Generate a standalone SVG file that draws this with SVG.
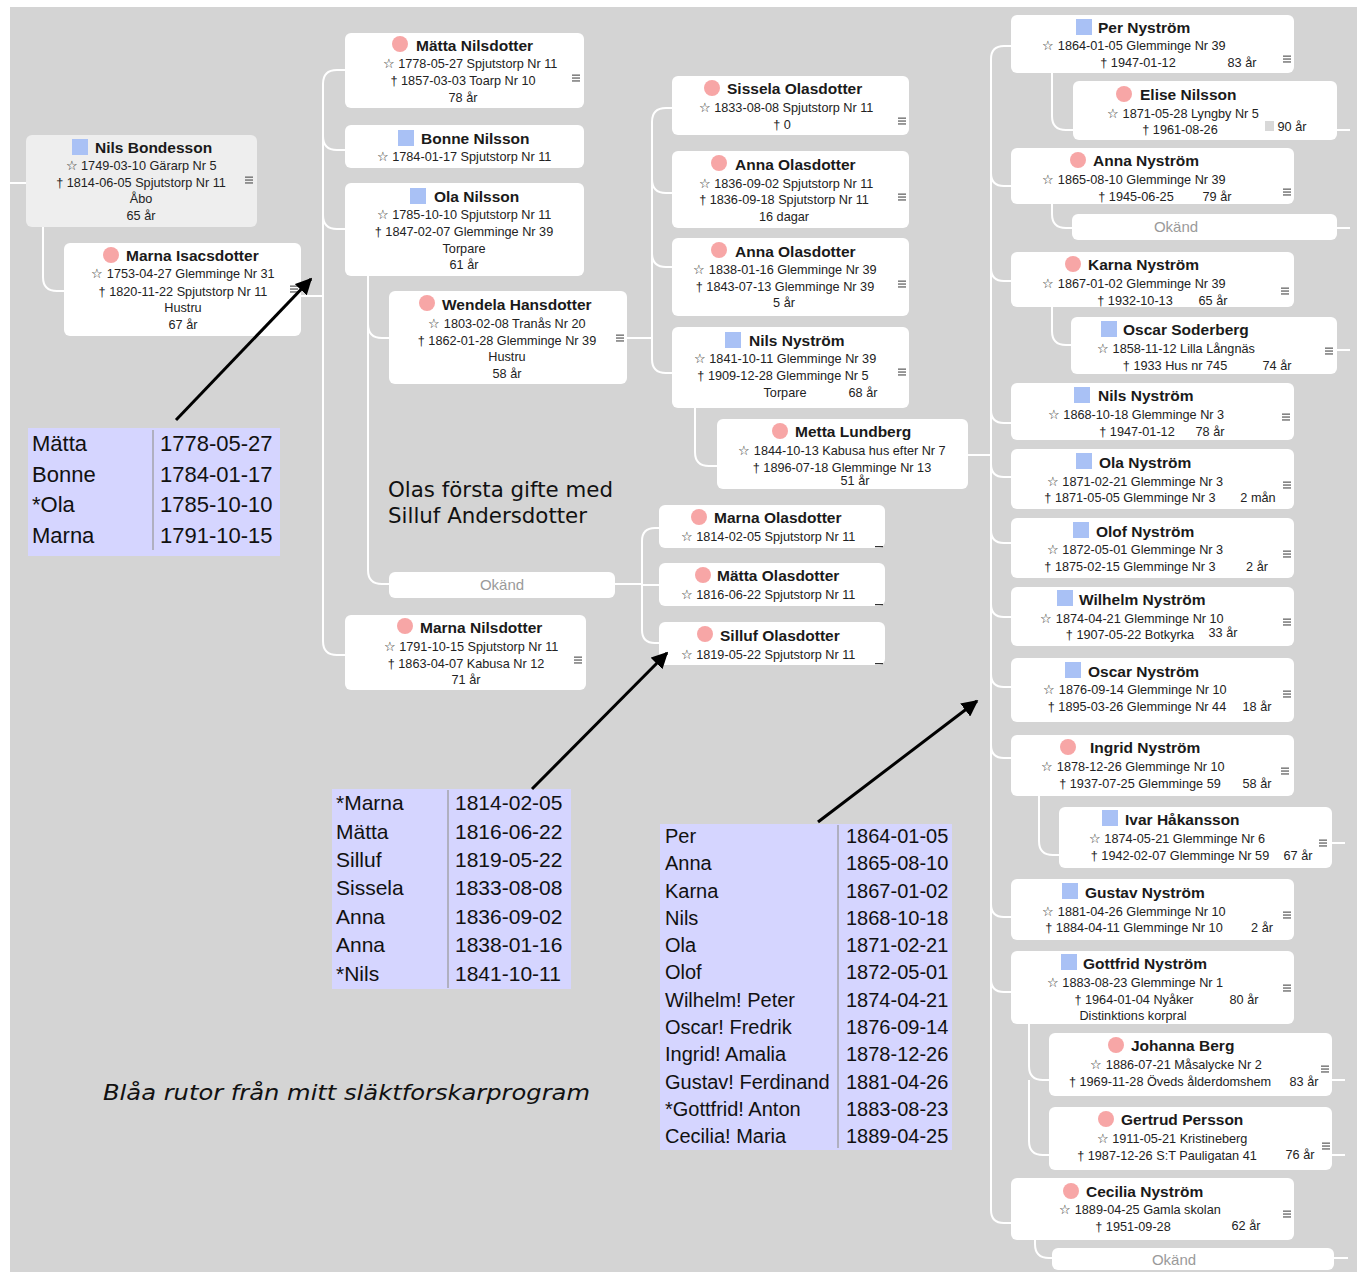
<svg xmlns="http://www.w3.org/2000/svg" xmlns:xlink="http://www.w3.org/1999/xlink" width="1357" height="1278" viewBox="0 0 1357 1278">
<style>
.bg{fill:#d4d4d4}
.box{fill:#ffffff}
.sel{fill:#eeeeee}
.nm{font-family:"Liberation Sans",Arial,sans-serif;font-weight:bold;font-size:15.5px;fill:#1a1a1a}
.dt{font-family:"Liberation Sans",Arial,sans-serif;font-size:12.7px;fill:#222;text-anchor:middle}
.ok{font-family:"Liberation Sans",Arial,sans-serif;font-size:15px;fill:#9a9a9a;text-anchor:middle}
.f{fill:#f7a6a6}
.m{fill:#a9c1f5}
.con path{fill:none;stroke:#ffffff;stroke-width:2}
.tb{fill:#d5d5ff}
.dv{stroke:#b0b0c0;stroke-width:2}
.tt{font-family:"Liberation Sans",Arial,sans-serif;fill:#111}
.an{font-family:"DejaVu Sans",Verdana,sans-serif;font-size:21.5px;fill:#111}
.ar{stroke:#000;stroke-width:3;fill:none}
.us{fill:#333}
</style>
<defs>
<g id="menu"><rect x="-4" y="-3.5" width="8" height="1.3" fill="#666"/><rect x="-4" y="-0.6" width="8" height="1.3" fill="#666"/><rect x="-4" y="2.3" width="8" height="1.3" fill="#666"/></g>
<marker id="ah" viewBox="0 0 10 10" refX="9" refY="5" markerWidth="5.5" markerHeight="5.5" orient="auto" markerUnits="strokeWidth"><path d="M0,0 L10,5 L0,10 z" fill="#000"/></marker>
</defs>
<rect class="bg" x="10" y="7" width="1347" height="1265"/>

<g id="connectors" class="con">
<path d="M10,183 H26"/>
<path d="M43,227 V277 Q43,291 57,291 H64"/>
<path d="M301,296 H323"/>
<path d="M345,70 H337 Q323,70 323,84 V641 Q323,655 337,655 H345"/>
<path d="M323,136 Q323,150 337,150 H345"/>
<path d="M323,215 Q323,229 337,229 H345"/>
<path d="M368,276 V570 Q368,584 382,584 H389"/>
<path d="M368,324 Q368,338 382,338 H389"/>
<path d="M627,338 H652"/>
<path d="M672,108 H666 Q652,108 652,122 V359 Q652,373 666,373 H672"/>
<path d="M652,179 Q652,193 666,193 H672"/>
<path d="M652,253 Q652,267 666,267 H672"/>
<path d="M695,408 V452 Q695,466 709,466 H717"/>
<path d="M615,584 H642"/>
<path d="M659,528 H655 Q642,528 642,541 V630 Q642,643 655,643 H659"/>
<path d="M642,585 H659"/>
<path d="M968,455 H991"/>
<path d="M1011,46 H1004 Q991,46 991,59 V1210 Q991,1223 1004,1223 H1011"/>
<path d="M991,173 Q991,186 1004,186 H1011"/>
<path d="M991,268 Q991,281 1004,281 H1011"/>
<path d="M991,410 Q991,423 1004,423 H1011"/>
<path d="M991,464 Q991,477 1004,477 H1011"/>
<path d="M991,530 Q991,543 1004,543 H1011"/>
<path d="M991,604 Q991,617 1004,617 H1011"/>
<path d="M991,674 Q991,687 1004,687 H1011"/>
<path d="M991,745 Q991,758 1004,758 H1011"/>
<path d="M991,904 Q991,917 1004,917 H1011"/>
<path d="M991,979 Q991,992 1004,992 H1011"/>
<path d="M1052,73 V116 Q1052,130 1066,130 H1073"/>
<path d="M1052,204 V214 Q1052,228 1066,228 H1072"/>
<path d="M1052,307 V331 Q1052,345 1066,345 H1071"/>
<path d="M1039,796 V841 Q1039,855 1053,855 H1059"/>
<path d="M1029,1024 V1066 Q1029,1080 1043,1080 H1049"/>
<path d="M1029,1080 V1141 Q1029,1155 1043,1155 H1049"/>
<path d="M1035,1240 V1244 Q1035,1258 1049,1258 H1052"/>
<path d="M1337,130 H1350"/>
<path d="M1337,228 H1350"/>
<path d="M1337,350 H1350"/>
<path d="M1332,843 H1345"/>
<path d="M1332,1080 H1345"/>
<path d="M1332,1155 H1345"/>
<path d="M1334,1258 H1348"/>
</g>

<g id="n-nils-bondesson">
<rect class="sel" x="26" y="135" width="231" height="92" rx="6"/>
<rect class="m" x="72" y="139" width="16" height="16"/>
<text class="nm" x="95" y="153">Nils Bondesson</text>
<text class="dt" x="141" y="170">☆ 1749-03-10 Gärarp Nr 5</text>
<text class="dt" x="141" y="187">† 1814-06-05 Spjutstorp Nr 11</text>
<text class="dt" x="141" y="203">Åbo</text>
<text class="dt" x="141" y="220">65 år</text>
<use xlink:href="#menu" x="249" y="180"/>
</g>

<g id="n-marna-isacsdotter">
<rect class="box" x="64" y="243" width="237" height="93" rx="6"/>
<circle class="f" cx="111" cy="255" r="8"/>
<text class="nm" x="126" y="261">Marna Isacsdotter</text>
<text class="dt" x="183" y="278">☆ 1753-04-27 Glemminge Nr 31</text>
<text class="dt" x="183" y="296">† 1820-11-22 Spjutstorp Nr 11</text>
<text class="dt" x="183" y="312">Hustru</text>
<text class="dt" x="183" y="329">67 år</text>
<use xlink:href="#menu" x="294" y="289"/>
</g>

<g id="n-matta-nilsdotter">
<rect class="box" x="345" y="33" width="239" height="75" rx="6"/>
<circle class="f" cx="400" cy="44" r="8"/>
<text class="nm" x="416" y="51">Mätta Nilsdotter</text>
<text class="dt" x="470" y="68">☆ 1778-05-27 Spjutstorp Nr 11</text>
<text class="dt" x="463" y="85">† 1857-03-03 Toarp Nr 10</text>
<text class="dt" x="463" y="102">78 år</text>
<use xlink:href="#menu" x="576" y="78"/>
</g>

<g id="n-bonne-nilsson">
<rect class="box" x="345" y="125" width="239" height="43" rx="6"/>
<rect class="m" x="398" y="130" width="16" height="16"/>
<text class="nm" x="421" y="144">Bonne Nilsson</text>
<text class="dt" x="464" y="161">☆ 1784-01-17 Spjutstorp Nr 11</text>
</g>

<g id="n-ola-nilsson">
<rect class="box" x="345" y="183" width="239" height="93" rx="6"/>
<rect class="m" x="410" y="188" width="16" height="16"/>
<text class="nm" x="434" y="202">Ola Nilsson</text>
<text class="dt" x="464" y="219">☆ 1785-10-10 Spjutstorp Nr 11</text>
<text class="dt" x="464" y="236">† 1847-02-07 Glemminge Nr 39</text>
<text class="dt" x="464" y="253">Torpare</text>
<text class="dt" x="464" y="269">61 år</text>
</g>

<g id="n-wendela-hansdotter">
<rect class="box" x="389" y="291" width="238" height="93" rx="6"/>
<circle class="f" cx="427" cy="303" r="8"/>
<text class="nm" x="442" y="310">Wendela Hansdotter</text>
<text class="dt" x="507" y="328">☆ 1803-02-08 Tranås Nr 20</text>
<text class="dt" x="507" y="345">† 1862-01-28 Glemminge Nr 39</text>
<text class="dt" x="507" y="361">Hustru</text>
<text class="dt" x="507" y="378">58 år</text>
<use xlink:href="#menu" x="620" y="338"/>
</g>

<g id="n-okand-1">
<rect class="box" x="389" y="572" width="226" height="26" rx="6"/>
<text class="ok" x="502" y="590">Okänd</text>
</g>

<g id="n-marna-nilsdotter">
<rect class="box" x="345" y="615" width="241" height="75" rx="6"/>
<circle class="f" cx="405" cy="626" r="8"/>
<text class="nm" x="420" y="633">Marna Nilsdotter</text>
<text class="dt" x="471" y="651">☆ 1791-10-15 Spjutstorp Nr 11</text>
<text class="dt" x="466" y="668">† 1863-04-07 Kabusa Nr 12</text>
<text class="dt" x="466" y="684">71 år</text>
<use xlink:href="#menu" x="578" y="660"/>
</g>

<g id="n-sissela-olasdotter">
<rect class="box" x="672" y="76" width="237" height="59" rx="6"/>
<circle class="f" cx="712" cy="88" r="8"/>
<text class="nm" x="727" y="94">Sissela Olasdotter</text>
<text class="dt" x="786" y="112">☆ 1833-08-08 Spjutstorp Nr 11</text>
<text class="dt" x="782" y="129">† 0</text>
<use xlink:href="#menu" x="902" y="121"/>
</g>

<g id="n-anna-olasdotter-1">
<rect class="box" x="672" y="151" width="237" height="77" rx="6"/>
<circle class="f" cx="719" cy="163" r="8"/>
<text class="nm" x="735" y="170">Anna Olasdotter</text>
<text class="dt" x="786" y="188">☆ 1836-09-02 Spjutstorp Nr 11</text>
<text class="dt" x="784" y="204">† 1836-09-18 Spjutstorp Nr 11</text>
<text class="dt" x="784" y="221">16 dagar</text>
<use xlink:href="#menu" x="902" y="197"/>
</g>

<g id="n-anna-olasdotter-2">
<rect class="box" x="672" y="238" width="237" height="78" rx="6"/>
<circle class="f" cx="719" cy="250" r="8"/>
<text class="nm" x="735" y="257">Anna Olasdotter</text>
<text class="dt" x="785" y="274">☆ 1838-01-16 Glemminge Nr 39</text>
<text class="dt" x="785" y="291">† 1843-07-13 Glemminge Nr 39</text>
<text class="dt" x="784" y="307">5 år</text>
<use xlink:href="#menu" x="902" y="284"/>
</g>

<g id="n-nils-nystrom-1">
<rect class="box" x="672" y="327" width="237" height="81" rx="6"/>
<rect class="m" x="725" y="332" width="16" height="16"/>
<text class="nm" x="749" y="346">Nils Nyström</text>
<text class="dt" x="785" y="363">☆ 1841-10-11 Glemminge Nr 39</text>
<text class="dt" x="783" y="380">† 1909-12-28 Glemminge Nr 5</text>
<text class="dt" x="785" y="397">Torpare</text>
<text class="dt" x="863" y="397">68 år</text>
<use xlink:href="#menu" x="902" y="372"/>
</g>

<g id="n-metta-lundberg">
<rect class="box" x="717" y="419" width="251" height="70" rx="6"/>
<circle class="f" cx="780" cy="431" r="8"/>
<text class="nm" x="795" y="437">Metta Lundberg</text>
<text class="dt" x="842" y="455">☆ 1844-10-13 Kabusa hus efter Nr 7</text>
<text class="dt" x="842" y="472">† 1896-07-18 Glemminge Nr 13</text>
<text class="dt" x="855" y="485">51 år</text>
</g>

<g id="n-marna-olasdotter">
<rect class="box" x="659" y="505" width="226" height="43" rx="6"/>
<circle class="f" cx="699" cy="517" r="8"/>
<text class="nm" x="714" y="523">Marna Olasdotter</text>
<text class="dt" x="768" y="541">☆ 1814-02-05 Spjutstorp Nr 11</text>
<rect class="us" x="875" y="546" width="8" height="1.2"/>
</g>

<g id="n-matta-olasdotter">
<rect class="box" x="659" y="563" width="226" height="43" rx="6"/>
<circle class="f" cx="703" cy="575" r="8"/>
<text class="nm" x="717" y="581">Mätta Olasdotter</text>
<text class="dt" x="768" y="599">☆ 1816-06-22 Spjutstorp Nr 11</text>
<rect class="us" x="875" y="604" width="8" height="1.2"/>
</g>

<g id="n-silluf-olasdotter">
<rect class="box" x="659" y="622" width="226" height="43" rx="6"/>
<circle class="f" cx="705" cy="634" r="8"/>
<text class="nm" x="720" y="641">Silluf Olasdotter</text>
<text class="dt" x="768" y="659">☆ 1819-05-22 Spjutstorp Nr 11</text>
<rect class="us" x="875" y="663" width="8" height="1.2"/>
</g>

<g id="n-per-nystrom">
<rect class="box" x="1011" y="15" width="283" height="58" rx="6"/>
<rect class="m" x="1076" y="19" width="16" height="16"/>
<text class="nm" x="1098" y="33">Per Nyström</text>
<text class="dt" x="1134" y="50">☆ 1864-01-05 Glemminge Nr 39</text>
<text class="dt" x="1138" y="67">† 1947-01-12</text>
<text class="dt" x="1242" y="67">83 år</text>
<use xlink:href="#menu" x="1287" y="59"/>
</g>

<g id="n-elise-nilsson">
<rect class="box" x="1073" y="81" width="264" height="59" rx="6"/>
<circle class="f" cx="1124" cy="94" r="8"/>
<text class="nm" x="1140" y="100">Elise Nilsson</text>
<text class="dt" x="1183" y="118">☆ 1871-05-28 Lyngby Nr 5</text>
<text class="dt" x="1180" y="134">† 1961-08-26</text>
<rect x="1265" y="121" width="9" height="10" fill="#d8d8d8"/>
<text class="dt" x="1292" y="131">90 år</text>
</g>

<g id="n-anna-nystrom">
<rect class="box" x="1011" y="148" width="283" height="56" rx="6"/>
<circle class="f" cx="1078" cy="160" r="8"/>
<text class="nm" x="1093" y="166">Anna Nyström</text>
<text class="dt" x="1134" y="184">☆ 1865-08-10 Glemminge Nr 39</text>
<text class="dt" x="1136" y="201">† 1945-06-25</text>
<text class="dt" x="1217" y="201">79 år</text>
<use xlink:href="#menu" x="1287" y="192"/>
</g>

<g id="n-okand-2">
<rect class="box" x="1072" y="214" width="265" height="26" rx="6"/>
<text class="ok" x="1176" y="232">Okänd</text>
</g>

<g id="n-karna-nystrom">
<rect class="box" x="1011" y="252" width="283" height="55" rx="6"/>
<circle class="f" cx="1073" cy="264" r="8"/>
<text class="nm" x="1088" y="270">Karna Nyström</text>
<text class="dt" x="1134" y="288">☆ 1867-01-02 Glemminge Nr 39</text>
<text class="dt" x="1135" y="305">† 1932-10-13</text>
<text class="dt" x="1213" y="305">65 år</text>
<use xlink:href="#menu" x="1285" y="291"/>
</g>

<g id="n-oscar-soderberg">
<rect class="box" x="1071" y="317" width="266" height="57" rx="6"/>
<rect class="m" x="1101" y="321" width="16" height="16"/>
<text class="nm" x="1123" y="335">Oscar Soderberg</text>
<text class="dt" x="1176" y="353">☆ 1858-11-12 Lilla Långnäs</text>
<text class="dt" x="1175" y="370">† 1933 Hus nr 745</text>
<text class="dt" x="1277" y="370">74 år</text>
<use xlink:href="#menu" x="1329" y="351"/>
</g>

<g id="n-nils-nystrom-2">
<rect class="box" x="1011" y="383" width="283" height="57" rx="6"/>
<rect class="m" x="1074" y="387" width="16" height="16"/>
<text class="nm" x="1098" y="401">Nils Nyström</text>
<text class="dt" x="1136" y="419">☆ 1868-10-18 Glemminge Nr 3</text>
<text class="dt" x="1137" y="436">† 1947-01-12</text>
<text class="dt" x="1210" y="436">78 år</text>
<use xlink:href="#menu" x="1286" y="417"/>
</g>

<g id="n-ola-nystrom">
<rect class="box" x="1011" y="449" width="283" height="60" rx="6"/>
<rect class="m" x="1076" y="453" width="16" height="16"/>
<text class="nm" x="1099" y="468">Ola Nyström</text>
<text class="dt" x="1135" y="486">☆ 1871-02-21 Glemminge Nr 3</text>
<text class="dt" x="1130" y="502">† 1871-05-05 Glemminge Nr 3</text>
<text class="dt" x="1258" y="502">2 mån</text>
<use xlink:href="#menu" x="1287" y="485"/>
</g>

<g id="n-olof-nystrom">
<rect class="box" x="1011" y="518" width="283" height="60" rx="6"/>
<rect class="m" x="1073" y="522" width="16" height="16"/>
<text class="nm" x="1096" y="537">Olof Nyström</text>
<text class="dt" x="1135" y="554">☆ 1872-05-01 Glemminge Nr 3</text>
<text class="dt" x="1130" y="571">† 1875-02-15 Glemminge Nr 3</text>
<text class="dt" x="1257" y="571">2 år</text>
<use xlink:href="#menu" x="1287" y="554"/>
</g>

<g id="n-wilhelm-nystrom">
<rect class="box" x="1011" y="587" width="283" height="59" rx="6"/>
<rect class="m" x="1057" y="590" width="16" height="16"/>
<text class="nm" x="1079" y="605">Wilhelm Nyström</text>
<text class="dt" x="1132" y="623">☆ 1874-04-21 Glemminge Nr 10</text>
<text class="dt" x="1130" y="639">† 1907-05-22 Botkyrka</text>
<text class="dt" x="1223" y="637">33 år</text>
<use xlink:href="#menu" x="1287" y="622"/>
</g>

<g id="n-oscar-nystrom">
<rect class="box" x="1011" y="658" width="283" height="64" rx="6"/>
<rect class="m" x="1065" y="662" width="16" height="16"/>
<text class="nm" x="1088" y="677">Oscar Nyström</text>
<text class="dt" x="1135" y="694">☆ 1876-09-14 Glemminge Nr 10</text>
<text class="dt" x="1137" y="711">† 1895-03-26 Glemminge Nr 44</text>
<text class="dt" x="1257" y="711">18 år</text>
<use xlink:href="#menu" x="1287" y="694"/>
</g>

<g id="n-ingrid-nystrom">
<rect class="box" x="1011" y="735" width="283" height="61" rx="6"/>
<circle class="f" cx="1068" cy="747" r="8"/>
<text class="nm" x="1090" y="753">Ingrid Nyström</text>
<text class="dt" x="1133" y="771">☆ 1878-12-26 Glemminge Nr 10</text>
<text class="dt" x="1140" y="788">† 1937-07-25 Glemminge 59</text>
<text class="dt" x="1257" y="788">58 år</text>
<use xlink:href="#menu" x="1285" y="771"/>
</g>

<g id="n-ivar-hakansson">
<rect class="box" x="1059" y="807" width="273" height="61" rx="6"/>
<rect class="m" x="1102" y="810" width="16" height="16"/>
<text class="nm" x="1125" y="825">Ivar Håkansson</text>
<text class="dt" x="1177" y="843">☆ 1874-05-21 Glemminge Nr 6</text>
<text class="dt" x="1180" y="860">† 1942-02-07 Glemminge Nr 59</text>
<text class="dt" x="1298" y="860">67 år</text>
<use xlink:href="#menu" x="1323" y="843"/>
</g>

<g id="n-gustav-nystrom">
<rect class="box" x="1011" y="879" width="283" height="61" rx="6"/>
<rect class="m" x="1062" y="883" width="16" height="16"/>
<text class="nm" x="1085" y="898">Gustav Nyström</text>
<text class="dt" x="1134" y="916">☆ 1881-04-26 Glemminge Nr 10</text>
<text class="dt" x="1134" y="932">† 1884-04-11 Glemminge Nr 10</text>
<text class="dt" x="1262" y="932">2 år</text>
<use xlink:href="#menu" x="1287" y="915"/>
</g>

<g id="n-gottfrid-nystrom">
<rect class="box" x="1011" y="951" width="283" height="73" rx="6"/>
<rect class="m" x="1061" y="954" width="16" height="16"/>
<text class="nm" x="1083" y="969">Gottfrid Nyström</text>
<text class="dt" x="1135" y="987">☆ 1883-08-23 Glemminge Nr 1</text>
<text class="dt" x="1134" y="1004">† 1964-01-04 Nyåker</text>
<text class="dt" x="1244" y="1004">80 år</text>
<text class="dt" x="1133" y="1020">Distinktions korpral</text>
<use xlink:href="#menu" x="1287" y="988"/>
</g>

<g id="n-johanna-berg">
<rect class="box" x="1049" y="1033" width="283" height="63" rx="6"/>
<circle class="f" cx="1116" cy="1045" r="8"/>
<text class="nm" x="1131" y="1051">Johanna Berg</text>
<text class="dt" x="1176" y="1069">☆ 1886-07-21 Måsalycke Nr 2</text>
<text class="dt" x="1170" y="1086">† 1969-11-28 Öveds ålderdomshem</text>
<text class="dt" x="1304" y="1086">83 år</text>
<use xlink:href="#menu" x="1325" y="1069"/>
</g>

<g id="n-gertrud-persson">
<rect class="box" x="1049" y="1107" width="283" height="63" rx="6"/>
<circle class="f" cx="1106" cy="1119" r="8"/>
<text class="nm" x="1121" y="1125">Gertrud Persson</text>
<text class="dt" x="1172" y="1143">☆ 1911-05-21 Kristineberg</text>
<text class="dt" x="1167" y="1160">† 1987-12-26 S:T Pauligatan 41</text>
<text class="dt" x="1300" y="1159">76 år</text>
<use xlink:href="#menu" x="1326" y="1146"/>
</g>

<g id="n-cecilia-nystrom">
<rect class="box" x="1011" y="1178" width="283" height="62" rx="6"/>
<circle class="f" cx="1071" cy="1191" r="8"/>
<text class="nm" x="1086" y="1197">Cecilia Nyström</text>
<text class="dt" x="1140" y="1214">☆ 1889-04-25 Gamla skolan</text>
<text class="dt" x="1133" y="1231">† 1951-09-28</text>
<text class="dt" x="1246" y="1230">62 år</text>
<use xlink:href="#menu" x="1287" y="1214"/>
</g>

<g id="n-okand-3">
<rect class="box" x="1052" y="1248" width="282" height="22" rx="6"/>
<text class="ok" x="1174" y="1265">Okänd</text>
</g>

<g id="table-1">
<rect class="tb" x="28" y="428" width="252" height="128"/>
<line class="dv" x1="153" y1="430" x2="153" y2="550"/>
<g class="tt" font-size="22">
<text x="32" y="451">Mätta</text><text x="160" y="451">1778-05-27</text>
<text x="32" y="482">Bonne</text><text x="160" y="482">1784-01-17</text>
<text x="32" y="512">*Ola</text><text x="160" y="512">1785-10-10</text>
<text x="32" y="543">Marna</text><text x="160" y="543">1791-10-15</text>
</g>
</g>

<g id="table-2">
<rect class="tb" x="332" y="789" width="239" height="200"/>
<line class="dv" x1="448" y1="790" x2="448" y2="988"/>
<g class="tt" font-size="21">
<text x="336" y="810">*Marna</text><text x="455" y="810">1814-02-05</text>
<text x="336" y="839">Mätta</text><text x="455" y="839">1816-06-22</text>
<text x="336" y="867">Silluf</text><text x="455" y="867">1819-05-22</text>
<text x="336" y="895">Sissela</text><text x="455" y="895">1833-08-08</text>
<text x="336" y="924">Anna</text><text x="455" y="924">1836-09-02</text>
<text x="336" y="952">Anna</text><text x="455" y="952">1838-01-16</text>
<text x="336" y="981">*Nils</text><text x="455" y="981">1841-10-11</text>
</g>
</g>

<g id="table-3">
<rect class="tb" x="660" y="824" width="292" height="326"/>
<line class="dv" x1="838" y1="825" x2="838" y2="1148"/>
<g class="tt" font-size="20">
<text x="665" y="843">Per</text><text x="846" y="843">1864-01-05</text>
<text x="665" y="870">Anna</text><text x="846" y="870">1865-08-10</text>
<text x="665" y="898">Karna</text><text x="846" y="898">1867-01-02</text>
<text x="665" y="925">Nils</text><text x="846" y="925">1868-10-18</text>
<text x="665" y="952">Ola</text><text x="846" y="952">1871-02-21</text>
<text x="665" y="979">Olof</text><text x="846" y="979">1872-05-01</text>
<text x="665" y="1007">Wilhelm! Peter</text><text x="846" y="1007">1874-04-21</text>
<text x="665" y="1034">Oscar! Fredrik</text><text x="846" y="1034">1876-09-14</text>
<text x="665" y="1061">Ingrid! Amalia</text><text x="846" y="1061">1878-12-26</text>
<text x="665" y="1089">Gustav! Ferdinand</text><text x="846" y="1089">1881-04-26</text>
<text x="665" y="1116">*Gottfrid! Anton</text><text x="846" y="1116">1883-08-23</text>
<text x="665" y="1143">Cecilia! Maria</text><text x="846" y="1143">1889-04-25</text>
</g>
</g>

<g id="annotations">
<text class="an" x="388" y="497" textLength="225" lengthAdjust="spacingAndGlyphs">Olas första gifte med</text>
<text class="an" x="388" y="523" textLength="199" lengthAdjust="spacingAndGlyphs">Silluf Andersdotter</text>
<text class="an" x="103" y="1100" font-style="italic" font-size="22.5" textLength="487" lengthAdjust="spacingAndGlyphs">Blåa rutor från mitt släktforskarprogram</text>
<line class="ar" x1="176" y1="420" x2="311" y2="279" marker-end="url(#ah)"/>
<line class="ar" x1="532" y1="789" x2="667" y2="653" marker-end="url(#ah)"/>
<line class="ar" x1="818" y1="822" x2="977" y2="701" marker-end="url(#ah)"/>
</g>
</svg>
